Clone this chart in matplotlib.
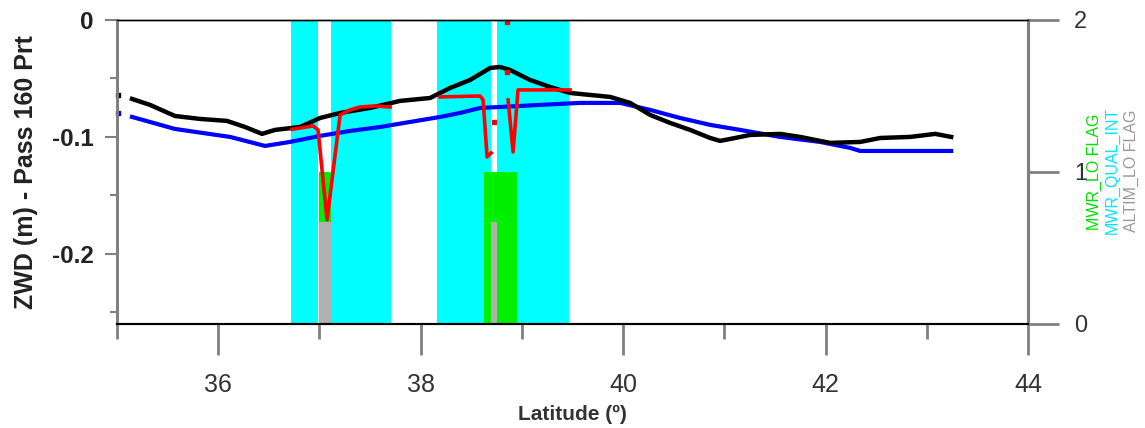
import numpy as np
import matplotlib
matplotlib.use("Agg")
import matplotlib.pyplot as plt
from matplotlib.ticker import MultipleLocator

plt.rcParams['font.family'] = ['Liberation Sans', 'DejaVu Sans']

# ZWD along track (m)
black_lat = [35.148, 35.326, 35.573, 35.820, 36.087, 36.265, 36.433, 36.561, 36.808, 37.006,
             37.204, 37.500, 37.796, 38.093, 38.291, 38.488, 38.686, 38.785, 38.883, 39.081,
             39.279, 39.476, 39.674, 39.872, 40.069, 40.267, 40.464, 40.662, 40.860, 40.958,
             41.107, 41.255, 41.551, 41.749, 42.045, 42.342, 42.540, 42.836, 43.083, 43.241]
black_zwd = [-0.0675, -0.0726, -0.0821, -0.0846, -0.0863, -0.0915, -0.0974, -0.0940, -0.0915, -0.0838,
             -0.0795, -0.0752, -0.0692, -0.0667, -0.0581, -0.0513, -0.0410, -0.0402, -0.0427, -0.0513,
             -0.0573, -0.0624, -0.0641, -0.0658, -0.0709, -0.0812, -0.0880, -0.0940, -0.1009, -0.1034,
             -0.1009, -0.0983, -0.0974, -0.1000, -0.1051, -0.1043, -0.1009, -0.1000, -0.0974, -0.1000]

blue_lat = [35.148, 35.573, 36.117, 36.462, 36.709, 37.006, 37.302, 37.599, 37.895, 38.192,
            38.389, 38.587, 38.785, 39.180, 39.575, 39.970, 40.267, 40.563, 40.860, 41.156,
            41.551, 41.947, 42.243, 42.342, 43.241]
blue_zwd = [-0.0829, -0.0932, -0.1000, -0.1077, -0.1043, -0.0991, -0.0949, -0.0915, -0.0872, -0.0829,
            -0.0795, -0.0752, -0.0744, -0.0726, -0.0709, -0.0709, -0.0769, -0.0838, -0.0897, -0.0940,
            -0.1000, -0.1043, -0.1094, -0.1120, -0.1120]

# red only where flagged (nan = gap)
red_lat = [36.730, 36.937, 36.986, 37.075, 37.124, 37.204, 37.302, 37.401, 37.549, 37.698, np.nan,
           38.192, 38.587, 38.617, 38.656, 38.696, np.nan,
           38.864, 38.913, 38.962, 39.476]
red_zwd = [-0.0935, -0.0906, -0.0940, -0.1709, -0.1368, -0.0812, -0.0769, -0.0744, -0.0735, -0.0744, np.nan,
           -0.0658, -0.0650, -0.0684, -0.1171, -0.1137, np.nan,
           -0.0684, -0.1128, -0.0598, -0.0598]

# single isolated points
black_dot_lat, black_dot_zwd = [35.01], [-0.0641]
blue_dot_lat, blue_dot_zwd = [35.01], [-0.0795]
red_dot_lat = [38.725, 38.854, 38.854]
red_dot_zwd = [-0.0872, -0.0017, -0.0444]

# flags (right axis)
qual_start = [36.72, 37.11, 38.16, 38.75]
qual_end = [36.99, 37.71, 38.69, 39.47]
qual_val = [2, 2, 2, 2]
lo_start = [37.00, 38.63]
lo_end = [37.11, 38.95]
lo_val = [1, 1]
altim_start = [37.00, 38.69]
altim_end = [37.11, 38.75]
altim_val = [0.67, 0.67]

fig = plt.figure(figsize=(11.45, 4.28), dpi=100)
ax = fig.add_axes([117 / 1145, 1 - 324 / 428, (1028 - 117) / 1145, (324 - 20) / 428])
ax2 = ax.twinx()
ax.set_zorder(2)
ax2.set_zorder(1)
ax.patch.set_visible(False)

for s, e, v, c in [(qual_start, qual_end, qual_val, '#00ffff'),
                   (lo_start, lo_end, lo_val, '#00ee00'),
                   (altim_start, altim_end, altim_val, '#b0b0b0')]:
    ax2.bar(s, v, width=np.array(e) - np.array(s), align='edge', color=c, linewidth=0)

ax.plot(blue_lat, blue_zwd, color='#0000ff', lw=3)
ax.plot(black_lat, black_zwd, color='black', lw=3.2)
ax.plot(red_lat, red_zwd, color='#ff0000', lw=2.6)
ax.plot(black_dot_lat, black_dot_zwd, 's', color='black', ms=3.5, clip_on=False)
ax.plot(blue_dot_lat, blue_dot_zwd, 's', color='#0000ff', ms=3.5, clip_on=False)
ax.plot(red_dot_lat, red_dot_zwd, 's', color='#ff0000', ms=3)

ax.set_xlim(35, 44)
ax.set_ylim(-0.26, 0)
ax2.set_ylim(0, 2)

grey = '#808080'
ax.xaxis.set_major_locator(MultipleLocator(2))
ax.xaxis.set_minor_locator(MultipleLocator(1))
ax.yaxis.set_major_locator(MultipleLocator(0.1))
ax.yaxis.set_minor_locator(MultipleLocator(0.05))
ax.set_xticks([36, 38, 40, 42, 44])
ax.set_xticklabels(['36', '38', '40', '42', '44'])
ax.set_yticks([0, -0.1, -0.2])
ax.set_yticklabels(['0', '-0.1', '-0.2'], fontweight='bold')
ax.tick_params(axis='x', which='major', length=22, width=2, color=grey, pad=13,
               labelsize=18, labelcolor='#333333')
ax.tick_params(axis='x', which='minor', length=11, width=2, color=grey)
ax.tick_params(axis='y', which='major', length=9, width=1.5, color=grey, pad=8,
               labelsize=17.5, labelcolor='#222222')
ax.tick_params(axis='y', which='minor', length=5, width=1.5, color=grey)
ax2.set_yticks([0, 1, 2])
ax2.set_yticklabels(['0', '1', '2'])
ax2.tick_params(axis='y', length=22, width=2, color=grey, pad=11,
                labelsize=17, labelcolor='#333333')

for a in (ax, ax2):
    a.spines['left'].set_color(grey)
    a.spines['left'].set_linewidth(2)
    a.spines['right'].set_color(grey)
    a.spines['right'].set_linewidth(2.2)
    a.spines['top'].set_color('black')
    a.spines['top'].set_linewidth(1)
    a.spines['bottom'].set_color('black')
    a.spines['bottom'].set_linewidth(1.5)

ax.set_xlabel('Latitude (º)', fontsize=15, fontweight='bold', color='#333333', labelpad=6)
ax.set_ylabel('ZWD (m) - Pass 160 Prt', fontsize=18, fontweight='bold', color='#222222', labelpad=10)

fig.text(1094 / 1145, 1 - 172 / 428, 'MWR_LO FLAG', rotation=90, ha='center', va='center',
         fontsize=11.5, color='#00dd00')
fig.text(1112 / 1145, 1 - 170 / 428, 'MWR_QUAL_INT', rotation=90, ha='center', va='center',
         fontsize=11.5, color='#00e5ff')
fig.text(1131 / 1145, 1 - 171 / 428, 'ALTIM_LO FLAG', rotation=90, ha='center', va='center',
         fontsize=11.5, color='#999999')

fig.savefig('out.png', dpi=100)
